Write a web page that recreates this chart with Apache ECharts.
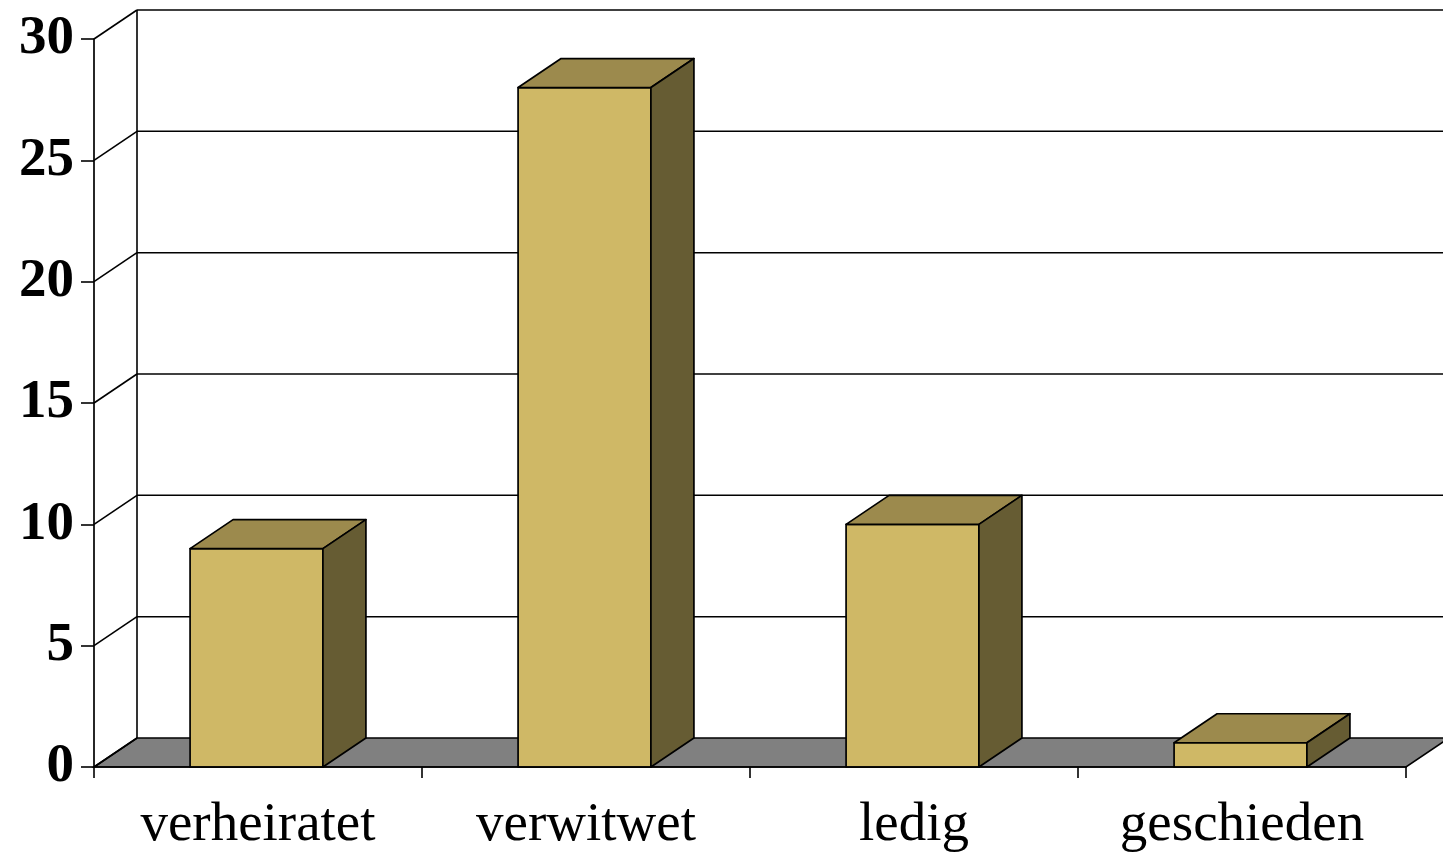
<!DOCTYPE html>
<html>
<head>
<meta charset="utf-8">
<script src="https://cdn.jsdelivr.net/npm/echarts@6/dist/echarts.min.js"></script>
<style>
  html, body { margin: 0; padding: 0; background: #ffffff; }
  #chart { width: 1443px; height: 857px; }
</style>
</head>
<body>
<div id="chart"></div>
<script>
// ---- data ----
var categories = ['verheiratet', 'verwitwet', 'ledig', 'geschieden'];
var values = [9, 28, 10, 1];
var yTicks = [0, 5, 10, 15, 20, 25, 30];

// ---- style ----
var DX = 43, DY = 29;
var FRONT = '#CFB866', TOP = '#9C8A4D', SIDE = '#665C33', FLOOR = '#808080';
var LINE = '#000000';
var BAR_RATIO = 0.405;

var chart = echarts.init(document.getElementById('chart'), null, { renderer: 'canvas' });

function wallItem(params, api) {
  var v = api.value(0);
  var cs = params.coordSys;
  var x0 = cs.x, x1 = cs.x + cs.width;
  var y = api.coord([0, v])[1];
  var children = [];
  if (v === yTicks[0]) {
    children.push({
      type: 'polygon',
      shape: { points: [[x0, y], [x1, y], [x1 + DX, y - DY], [x0 + DX, y - DY]] },
      style: { fill: FLOOR, stroke: LINE, lineWidth: 1.6 }
    });
    var yTop = api.coord([0, yTicks[yTicks.length - 1]])[1];
    children.push({
      type: 'line',
      shape: { x1: x0 + DX, y1: y - DY, x2: x0 + DX, y2: yTop - DY },
      style: { stroke: LINE, lineWidth: 1.6 }
    });
  } else {
    children.push({
      type: 'line',
      shape: { x1: x0 + DX, y1: y - DY, x2: x1 + DX, y2: y - DY },
      style: { stroke: LINE, lineWidth: 1.5 }
    });
  }
  children.push({
    type: 'line',
    shape: { x1: x0, y1: y, x2: x0 + DX, y2: y - DY },
    style: { stroke: LINE, lineWidth: 1.6 }
  });
  return { type: 'group', children: children };
}

function barItem(params, api) {
  var i = api.value(0);
  var v = api.value(1);
  var base = api.coord([i, 0]);
  var top = api.coord([i, v]);
  var band = api.size([1, 0])[0];
  var w = band * BAR_RATIO;
  var xl = base[0] - w / 2 - 1.5, xr = base[0] + w / 2 - 1.5;
  var yb = base[1], yt = top[1];
  var st = { stroke: LINE, lineWidth: 1.7, lineJoin: 'round' };
  return {
    type: 'group',
    children: [
      { type: 'polygon', shape: { points: [[xl, yb], [xr, yb], [xr, yt], [xl, yt]] },
        style: Object.assign({ fill: FRONT }, st) },
      { type: 'polygon', shape: { points: [[xl, yt], [xr, yt], [xr + DX, yt - DY], [xl + DX, yt - DY]] },
        style: Object.assign({ fill: TOP }, st) },
      { type: 'polygon', shape: { points: [[xr, yt], [xr + DX, yt - DY], [xr + DX, yb - DY], [xr, yb]] },
        style: Object.assign({ fill: SIDE }, st) }
    ]
  };
}

var option = {
  animation: false,
  backgroundColor: '#ffffff',
  grid: { left: 94, right: 37, top: 39, bottom: 90, containLabel: false },
  xAxis: {
    type: 'category',
    data: categories,
    boundaryGap: true,
    axisLine: { show: true, lineStyle: { color: LINE, width: 1.7 } },
    axisTick: { show: true, length: 11, lineStyle: { color: LINE, width: 1.6 } },
    axisLabel: {
      color: '#000', fontFamily: 'Liberation Serif', fontSize: 55, margin: 31
    },
    z: 10
  },
  yAxis: {
    type: 'value',
    min: 0, max: 30, interval: 5,
    axisLine: { show: true, lineStyle: { color: LINE, width: 1.7 } },
    axisTick: { show: true, length: 13, lineStyle: { color: LINE, width: 1.6 } },
    axisLabel: {
      color: '#000', fontFamily: 'Liberation Serif', fontWeight: 'bold', fontSize: 55, margin: 20
    },
    splitLine: { show: false }
  },
  series: [
    {
      type: 'custom',
      name: 'walls',
      renderItem: wallItem,
      data: yTicks.map(function (t) { return [t]; }),
      encode: { y: 0 },
      silent: true,
      clip: false,
      z: 1
    },
    {
      type: 'custom',
      name: 'bars',
      renderItem: barItem,
      data: values.map(function (v, i) { return [i, v]; }),
      encode: { x: 0, y: 1 },
      clip: false,
      z: 5
    }
  ]
};
chart.setOption(option);
</script>
</body>
</html>
